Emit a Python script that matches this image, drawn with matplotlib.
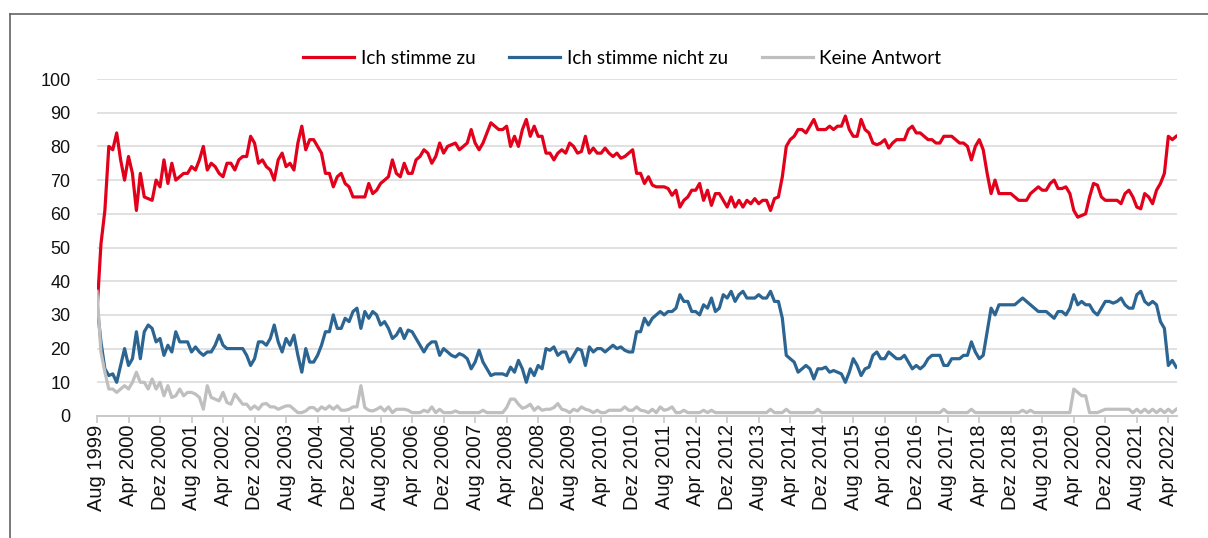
import numpy as np
import matplotlib.pyplot as plt
from matplotlib.lines import Line2D

# monthly survey values, Aug 1999 .. Jun 2022 (one row = 8 months)
zustimmung = [
    31, 51, 61, 80, 79, 84, 76, 70,
    77, 72, 61, 72, 65, 64.5, 64, 70,
    68, 76, 69, 75, 70, 71, 72, 72,
    74, 73, 76, 80, 73, 75, 74, 72,
    71, 75, 75, 73, 76, 77, 77, 83,
    81, 75, 76, 74, 73, 70, 76, 78,
    74, 75, 73, 81, 86, 79, 82, 82,
    80, 78, 72, 72, 68, 71, 72, 69,
    68, 65, 65, 65, 65, 69, 66, 67,
    69, 70, 71, 76, 72, 71, 75, 72,
    72, 76, 77, 79, 78, 75, 77, 81,
    78, 80, 80.5, 81, 79, 80, 81, 85,
    81, 79, 81, 84, 87, 86, 85, 85,
    86, 80, 83, 80, 85, 88, 83, 86,
    83, 83, 78, 78, 76, 78, 79, 78,
    81, 80, 78, 78.5, 83, 78, 79.5, 78,
    78, 79.5, 78, 77, 78, 76.5, 77, 78,
    79, 72, 72, 69, 71, 68.5, 68, 68,
    68, 67.5, 65.5, 67, 62, 64, 65, 67,
    67, 69, 64, 67, 62.5, 66, 66, 64,
    62, 65, 62, 64, 62, 64, 63, 64.5,
    63, 64, 64, 61, 64.5, 65, 71, 80,
    82, 83, 85, 85, 84, 86, 88, 85,
    85, 85, 86, 85, 86, 86, 89, 85,
    83, 83, 88, 85, 84, 81, 80.5, 81,
    82, 79.5, 81, 82, 82, 82, 85, 86,
    84, 84, 83, 82, 82, 81, 81, 83,
    83, 83, 82, 81, 81, 80, 76, 80,
    82, 79, 72, 66, 70, 66, 66, 66,
    66, 65, 64, 64, 64, 66, 67, 68,
    67, 67, 69, 70, 67.5, 67.5, 68, 66,
    61, 59, 59.5, 60, 65, 69, 68.5, 65,
    64, 64, 64, 64, 63, 66, 67, 65,
    62, 61.5, 66, 65, 63, 67, 69, 72,
    83, 82, 83,
]

ablehnung = [
    33, 22, 14, 12, 12.5, 10, 15, 20,
    15, 17, 25, 17, 25, 27, 26, 22,
    23, 18, 21, 19, 25, 22, 22, 22,
    19, 20.5, 19, 18, 19, 19, 21, 24,
    21, 20, 20, 20, 20, 20, 18, 15,
    17, 22, 22, 21, 23, 27, 22, 19,
    23, 21, 24, 18, 13, 20, 16, 16,
    18, 21, 25, 25, 30, 26, 26, 29,
    28, 31, 32, 26, 31, 29, 31, 30,
    27, 28, 26, 23, 24, 26, 23, 25.5,
    25, 23, 21, 19, 21, 22, 22, 18,
    20, 19, 18, 17.5, 18.5, 18, 17, 14,
    16, 19.5, 16, 14, 12, 12.5, 12.5, 12.5,
    12, 14.5, 13, 16.5, 14, 10, 14, 12,
    15, 14, 20, 19.5, 20.5, 18, 19, 19,
    16, 18, 20, 19.5, 15, 20.5, 19, 20,
    20, 19, 20, 21, 20, 20.5, 19.5, 19,
    19, 25, 25, 29, 27, 29, 30, 31,
    30, 31, 31, 32, 36, 34, 34, 31,
    31, 30, 33, 32, 35, 31, 32, 36,
    35, 37, 34, 36, 37, 35, 35, 35,
    36, 35, 35, 37, 34, 34, 29, 18,
    17, 16, 13, 14, 15, 14, 11, 14,
    14, 14.5, 13, 13.5, 13, 12.5, 10, 13,
    17, 15, 12, 14, 14.5, 18, 19, 17,
    17, 19, 18, 17, 17, 18, 16, 14,
    15, 14, 15, 17, 18, 18, 18, 15,
    15, 17, 17, 17, 18, 18, 22, 19,
    17, 18, 25, 32, 30, 33, 33, 33,
    33, 33, 34, 35, 34, 33, 32, 31,
    31, 31, 30, 29, 31, 31, 30, 32,
    36, 33, 34, 33, 33, 31, 30, 32,
    34, 34, 33.5, 34, 35, 33, 32, 32,
    36, 37, 34, 33, 34, 33, 28, 26,
    15, 16.5, 14.5,
]

keine_antwort = [
    37, 19, 13, 8, 8, 7, 8, 9,
    8, 10, 13, 10, 10, 8, 11, 8,
    10, 6, 9, 5.5, 6, 8, 6, 7,
    7, 6.5, 5.5, 2, 9, 5.5, 5, 4.5,
    7, 4, 3.5, 6.5, 5, 3.5, 3.5, 2,
    3, 2, 3.5, 3.7, 2.7, 2.7, 2, 2.5,
    3, 3, 2, 1, 1, 1.5, 2.5, 2.5,
    1.5, 2.7, 2, 3, 2, 3, 1.7, 1.7,
    2, 2.7, 2.7, 9, 2.5, 1.7, 1.5, 2,
    2.7, 1.5, 2.7, 1, 2, 2, 2, 1.7,
    1, 1, 1, 1.7, 1.2, 2.7, 1, 2,
    1, 1, 1, 1.5, 1, 1, 1, 1,
    1, 1, 1.7, 1, 1, 1, 1, 1,
    2.5, 5, 5, 3.5, 2.3, 2.7, 3.5, 1.7,
    2.7, 1.7, 2, 2, 2.5, 3.7, 2, 1.7,
    1, 2, 1.5, 2.7, 2, 1.7, 1, 1.7,
    1, 1, 1.7, 1.7, 1.7, 1.7, 2.7, 1.7,
    1.7, 2.7, 1.7, 1.5, 1, 2, 1, 2.7,
    1.7, 2, 2.7, 1, 1, 1.7, 1, 1,
    1, 1, 1.7, 1, 1.7, 1, 1, 1,
    1, 1, 1, 1, 1, 1, 1, 1,
    1, 1, 1, 2, 1, 1, 1, 2,
    1, 1, 1, 1, 1, 1, 1, 2,
    1, 1, 1, 1, 1, 1, 1, 1,
    1, 1, 1, 1, 1, 1, 1, 1,
    1, 1, 1, 1, 1, 1, 1, 1,
    1, 1, 1, 1, 1, 1, 1, 2,
    1, 1, 1, 1, 1, 1, 2, 1,
    1, 1, 1, 1, 1, 1, 1, 1,
    1, 1, 1, 1.7, 1, 1.7, 1, 1,
    1, 1, 1, 1, 1, 1, 1, 1,
    8, 7, 6, 6, 1, 1, 1, 1.5,
    2, 2, 2, 2, 2, 2, 2, 1,
    2, 1, 2, 1, 2, 1, 2, 1,
    2, 1, 2,
]

tick_labels = [
    "Aug 1999", "Apr 2000", "Dez 2000", "Aug 2001", "Apr 2002", "Dez 2002",
    "Aug 2003", "Apr 2004", "Dez 2004", "Aug 2005", "Apr 2006", "Dez 2006",
    "Aug 2007", "Apr 2008", "Dez 2008", "Aug 2009", "Apr 2010", "Dez 2010",
    "Aug 2011", "Apr 2012", "Dez 2012", "Aug 2013", "Apr 2014", "Dez 2014",
    "Aug 2015", "Apr 2016", "Dez 2016", "Aug 2017", "Apr 2018", "Dez 2018",
    "Aug 2019", "Apr 2020", "Dez 2020", "Aug 2021", "Apr 2022",
]

rot = "#e2001a"
blau = "#2c6591"
grau = "#bfbfbf"

fig = plt.figure(figsize=(12.08, 5.38), dpi=100)
ax = fig.add_axes([97/1208, 1-416/538, 1080/1208, 337/538])

x = np.arange(len(zustimmung))
ax.plot(x, zustimmung, color=rot, lw=2.3, label="Ich stimme zu", solid_joinstyle="round")
ax.plot(np.arange(len(ablehnung)), ablehnung, color=blau, lw=2.3, label="Ich stimme nicht zu",
        solid_joinstyle="round")
ax.plot(np.arange(len(keine_antwort)), keine_antwort, color=grau, lw=2.3, label="Keine Antwort",
        solid_joinstyle="round")

ax.set_xlim(0, 274.2)
ax.set_ylim(0, 100)
ax.set_yticks(range(0, 101, 10))
ax.set_xticks(np.arange(len(tick_labels)) * 8)
ax.set_xticklabels(tick_labels, rotation=90, fontsize=14.5, family="Liberation Sans", color="#111111")
for lab in ax.get_yticklabels():
    lab.set_fontsize(13)
    lab.set_family("Liberation Sans")
    lab.set_color("#111111")

ax.grid(axis="y", color="#d9d9d9", lw=1.1)
ax.set_axisbelow(True)
for s in ["top", "right", "left"]:
    ax.spines[s].set_visible(False)
ax.spines["bottom"].set_color("#c8c8c8")
ax.spines["bottom"].set_linewidth(1.4)
ax.tick_params(axis="y", length=0, pad=19)
ax.tick_params(axis="x", length=5, width=1.2, color="#c8c8c8", pad=1)

fig.legend(loc="center", bbox_to_anchor=(0.515, 1-58/538), ncol=3, frameon=False,
           prop={"family": "Lato", "size": 13.6}, handlelength=2.7, handletextpad=0.35,
           columnspacing=1.8)

# chart frame (cut off at right and bottom)
fig.add_artist(Line2D([10/1208, 1], [1-14/538, 1-14/538], color="#636363", lw=1.2))
fig.add_artist(Line2D([10/1208, 10/1208], [0, 1-14/538], color="#636363", lw=1.2))

fig.savefig("out.png", dpi=100)
